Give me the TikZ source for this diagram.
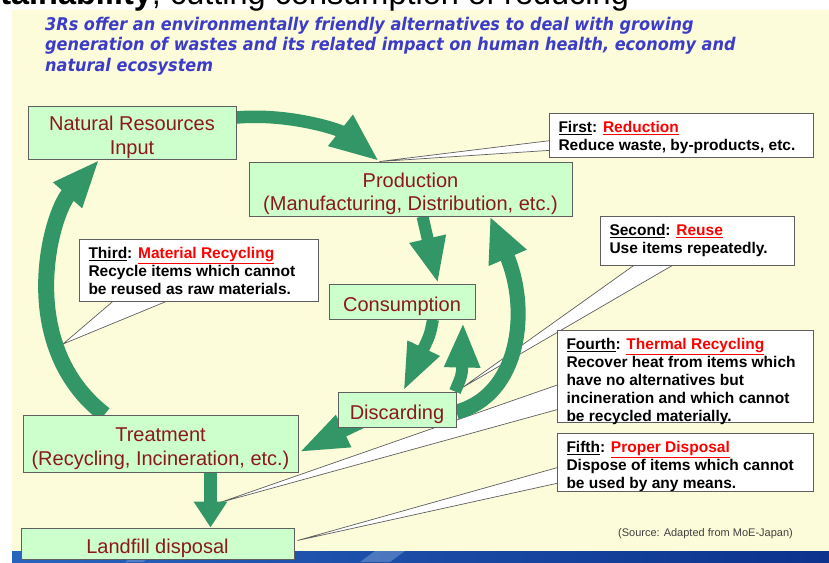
\documentclass[tikz,border=0pt]{standalone}
\usepackage{fontspec}
\setmainfont{Liberation Sans}
\newfontfamily\titlefont[FakeStretch=0.92]{DejaVu Sans}
\usetikzlibrary{arrows.meta,calc}
\definecolor{panel}{RGB}{252,252,218}
\definecolor{arrowgreen}{RGB}{51,150,102}
\definecolor{boxgreen}{RGB}{204,255,204}
\definecolor{boxtext}{RGB}{140,25,25}
\definecolor{titleblue}{RGB}{60,60,200}
\definecolor{bandA}{RGB}{40,100,190}
\definecolor{bandB}{RGB}{12,50,140}
\definecolor{bordergray}{RGB}{95,95,95}
\pgfdeclarelayer{panellayer}
\pgfdeclarelayer{wedgelayer}
\pgfdeclarelayer{flowlayer}
\pgfsetlayers{panellayer,wedgelayer,flowlayer,main}
\tikzset{
 stagebox/.style={draw=bordergray, line width=1pt, fill=boxgreen, text=boxtext,
   font=\fontsize{20}{23.5}\selectfont, align=center, inner sep=0pt},
 callout/.style={draw=bordergray, line width=1pt, fill=white,
   font=\bfseries\fontsize{15.5}{18}\selectfont, anchor=north west,
   inner xsep=9pt, inner ysep=0pt},
 wedge/.style={draw=bordergray, line width=0.7pt, fill=white},
 flow/.style={draw=arrowgreen, line width=12pt, -{Triangle[length=46pt,width=34pt]}},
}
\newcommand{\lab}[2]{\underline{#1}: \textcolor{red}{\underline{#2}}}
\newcommand{\cbox}[3]{\begin{minipage}[c][#1][t]{#2}\raggedright\rule{0pt}{19pt}#3\end{minipage}}
\newcommand{\sh}{\rule{0pt}{24pt}}
\begin{document}
\begin{tikzpicture}[x=1pt,y=-1pt]
\useasboundingbox (0,0) rectangle (829,562);
\clip (0,0) rectangle (829,562);
\begin{pgfonlayer}{panellayer}
\fill[panel] (12,10) rectangle (829,551);
\shade[left color=bandA, right color=bandB] (12,551) rectangle (829,562);
\fill[bandA!60!white, opacity=0.5] (125,562) -- (140,551) -- (158,551) -- (143,562) -- cycle;
\fill[bandA!60!white, opacity=0.5] (360,562) -- (375,551) -- (405,551) -- (390,562) -- cycle;
\end{pgfonlayer}

\node[anchor=base west, inner sep=0pt, font=\fontsize{32.5}{36}\selectfont] (topline) at (-18,4.5)
  {\textbf{stainability}, cutting consumption of reducing};
\node[anchor=north west, inner sep=0pt, text=titleblue, align=left,
  font=\titlefont\bfseries\itshape\fontsize{17.5}{20.5}\selectfont] (title) at (45,17)
  {3Rs offer an environmentally friendly alternatives to deal with growing\\
   generation of wastes and its related impact on human health, economy and\\
   natural ecosystem};

% stage boxes
\node[stagebox, minimum width=208pt, minimum height=53pt] (nr) at (132,132.5) {\sh Natural Resources\\Input};
\node[stagebox, minimum width=323pt, minimum height=54pt] (prod) at (410.5,189) {\sh Production\\(Manufacturing, Distribution, etc.)};
\node[stagebox, minimum width=146pt, minimum height=35pt] (cons) at (402,301.5) {\sh Consumption};
\node[stagebox, minimum width=118pt, minimum height=35pt] (disc) at (397,409.5) {\sh Discarding};
\node[stagebox, minimum width=275pt, minimum height=57pt] (treat) at (160.5,443.5) {\sh Treatment\\(Recycling, Incineration, etc.)};
\node[stagebox, minimum width=273pt, minimum height=31pt] (land) at (157.5,543.5) {\sh Landfill disposal};

% callouts
\node[callout] (first) at (549,113)
  {\cbox{44pt}{246pt}{\lab{First}{Reduction}\\Reduce waste, by-products, etc.}};
\node[callout] (second) at (600,216)
  {\cbox{49pt}{176pt}{\lab{Second}{Reuse}\\Use items repeatedly.}};
\node[callout] (third) at (79,239)
  {\cbox{62pt}{221pt}{\lab{Third}{Material Recycling}\\Recycle items which cannot\\be reused as raw materials.}};
\node[callout] (fourth) at (557,330)
  {\cbox{92pt}{238pt}{\lab{Fourth}{Thermal Recycling}\\Recover heat from items which\\have no alternatives but\\incineration and which cannot\\be recycled materially.}};
\node[callout] (fifth) at (557,433)
  {\cbox{58pt}{238pt}{\lab{Fifth}{Proper Disposal}\\Dispose of items which cannot\\be used by any means.}};

\node[anchor=base east, inner sep=0pt, text=black!75, font=\fontsize{11}{13}\selectfont] (source) at (793,536)
  {(Source: Adapted from MoE-Japan)};

\coordinate (arcpt) at (63,344);

% callout pointers
\begin{pgfonlayer}{wedgelayer}
\draw[wedge] ($(first.north west)+(6,27)$) -- ([xshift=131pt]prod.north west) -- ($(first.north west)+(6,37)$) -- cycle;
\draw[wedge] ($(second.south west)+(40,-5)$) -- ($(disc.north east)+(6,-4)$) -- ($(second.south west)+(80,-5)$) -- cycle;
\draw[wedge] ($(third.south west)+(39,-5)$) -- (arcpt) -- ($(third.south west)+(98,-5)$) -- cycle;
\draw[wedge] ($(fourth.north west)+(6,53)$) -- ([xshift=59.5pt,yshift=-30pt]treat.south) -- ($(fourth.north west)+(6,78)$) -- cycle;
\draw[wedge] ($(fifth.north west)+(6,33)$) -- ($(land.east)+(3,-3)$) -- ($(fifth.north west)+(6,49)$) -- cycle;
\end{pgfonlayer}

% green flow arrows
\begin{pgfonlayer}{flowlayer}
\draw[flow, line width=12.5pt, -{Triangle[length=50pt,width=36pt]}]
  ([yshift=15pt]nr.east) .. controls (290,113) and (340,130) .. ([xshift=131pt]prod.north west);
\draw[flow] ([xshift=12pt]prod.south) -- ([xshift=36pt]cons.north);
\draw[flow, -{Triangle[length=48pt,width=32pt]}] ([xshift=31pt]cons.south) .. controls (430,335) .. ([xshift=6pt]disc.north);
\draw[flow, -{Triangle[length=45pt,width=33pt]}] ([xshift=58pt]disc.north) .. controls (462,375) .. ([xshift=61pt,yshift=-3pt]cons.south);
\draw[flow, line width=15pt, -{Triangle[length=45pt,width=38pt]}]
  ([yshift=-2.5pt]disc.east) .. controls (520,395) and (530,310) .. ([xshift=79.5pt]prod.south);
\draw[flow, -{Triangle[length=50pt,width=32pt]}] ([xshift=24pt,yshift=5pt]disc.south west) -- ([yshift=-9pt]treat.east);
\draw[flow, line width=13pt, -{Triangle[length=26pt,width=32pt]}] ([xshift=50pt]treat.south) -- ([xshift=53pt]land.north);
\draw[flow, line width=16pt, -{Triangle[length=48pt,width=35pt]}]
  ([xshift=82pt]treat.north west) .. controls (15,345) and (50,215) .. ([xshift=72pt]nr.south west);
\end{pgfonlayer}
\end{tikzpicture}
\end{document}
